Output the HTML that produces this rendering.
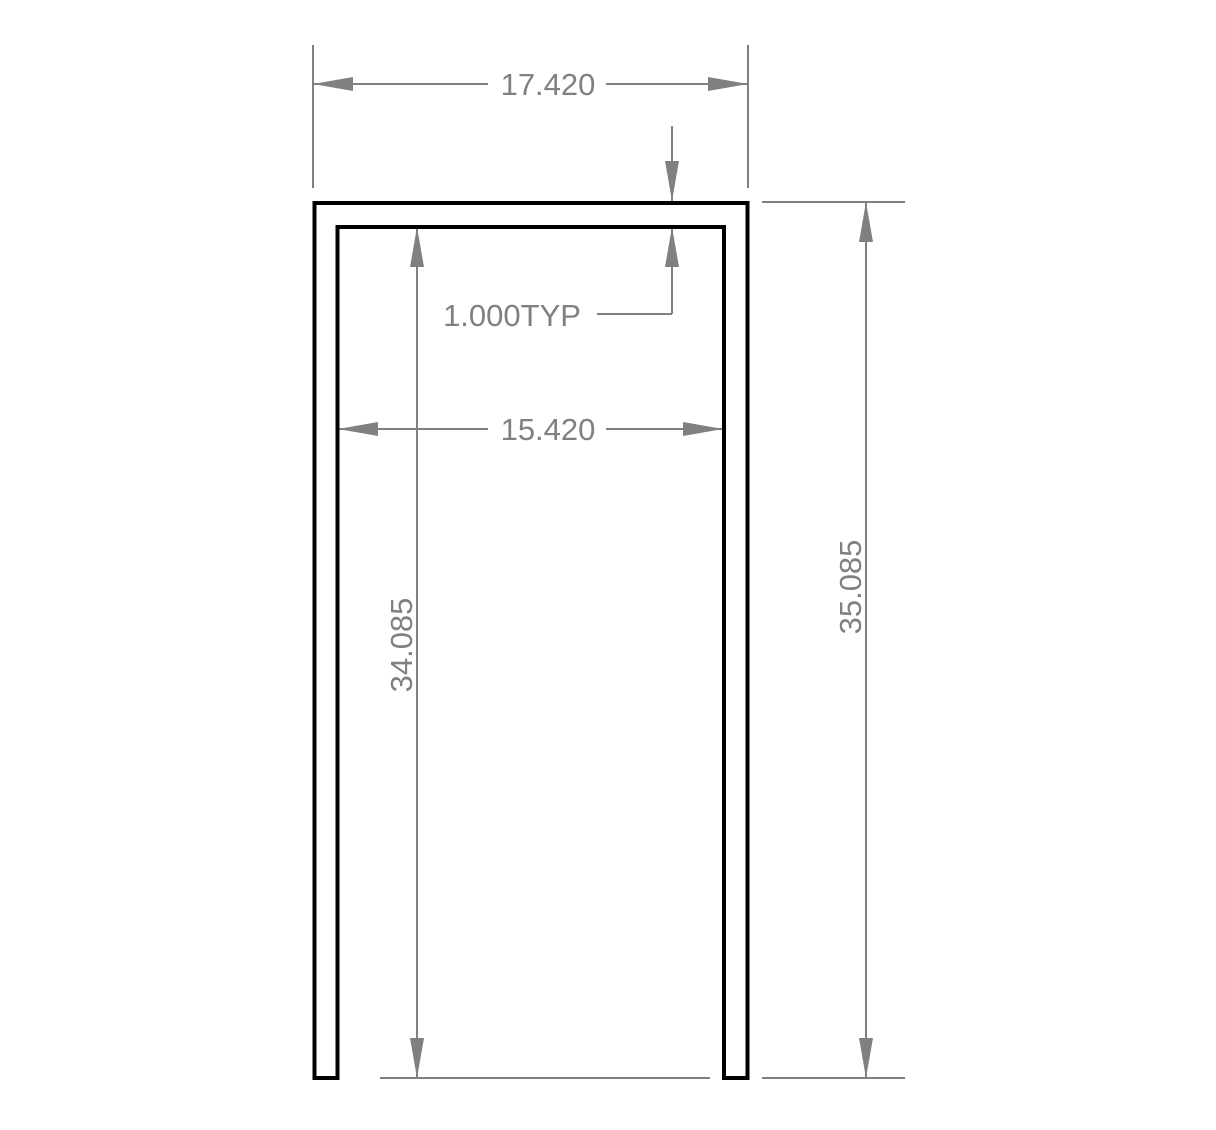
<!DOCTYPE html>
<html><head><style>html,body{margin:0;padding:0;background:#fff}</style></head>
<body>
<svg width="1216" height="1125" viewBox="0 0 1216 1125" xmlns="http://www.w3.org/2000/svg">
<defs>
<marker id="a" viewBox="0 0 40 14" refX="40" refY="7" markerWidth="40" markerHeight="14" markerUnits="userSpaceOnUse" orient="auto-start-reverse">
<path d="M0,0 L40,7 L0,14 Z" fill="#808080"/>
</marker>
</defs>
<g stroke="#808080" stroke-width="2" fill="none">
<!-- top dim -->
<line x1="313" y1="45" x2="313" y2="188"/>
<line x1="748" y1="45" x2="748" y2="188"/>
<line x1="313" y1="84" x2="488" y2="84" marker-start="url(#a)"/>
<line x1="606" y1="84" x2="748" y2="84" marker-end="url(#a)"/>
<!-- right dim -->
<line x1="762" y1="202" x2="905" y2="202"/>
<line x1="762" y1="1078" x2="905" y2="1078"/>
<line x1="866" y1="202" x2="866" y2="1078" marker-start="url(#a)" marker-end="url(#a)"/>
<!-- inner height -->
<line x1="380" y1="1078" x2="710" y2="1078"/>
<line x1="417" y1="227" x2="417" y2="1078" marker-start="url(#a)" marker-end="url(#a)"/>
<!-- 15.420 -->
<line x1="338" y1="429" x2="488" y2="429" marker-start="url(#a)"/>
<line x1="606" y1="429" x2="723" y2="429" marker-end="url(#a)"/>
<!-- 1.000TYP -->
<line x1="672" y1="126" x2="672" y2="201" marker-end="url(#a)"/>
<line x1="672" y1="314" x2="672" y2="227" marker-end="url(#a)"/>
<line x1="597" y1="314" x2="672" y2="314"/>
</g>
<path d="M325.5,1078 L314.5,1078 L314.5,203 L747.5,203 L747.5,1078 L724,1078 L724,227 L337.5,227 L337.5,1078 Z" fill="none" stroke="#000" stroke-width="4" stroke-linejoin="miter"/>
<g fill="#808080" font-family="Liberation Sans, sans-serif" font-size="31" font-weight="300">
<text x="548" y="95" text-anchor="middle">17.420</text>
<text x="548" y="440" text-anchor="middle">15.420</text>
<text x="512" y="326" text-anchor="middle">1.000TYP</text>
<text transform="translate(412,645) rotate(-90)" text-anchor="middle">34.085</text>
<text transform="translate(861,587) rotate(-90)" text-anchor="middle">35.085</text>
</g>
</svg>
</body></html>
